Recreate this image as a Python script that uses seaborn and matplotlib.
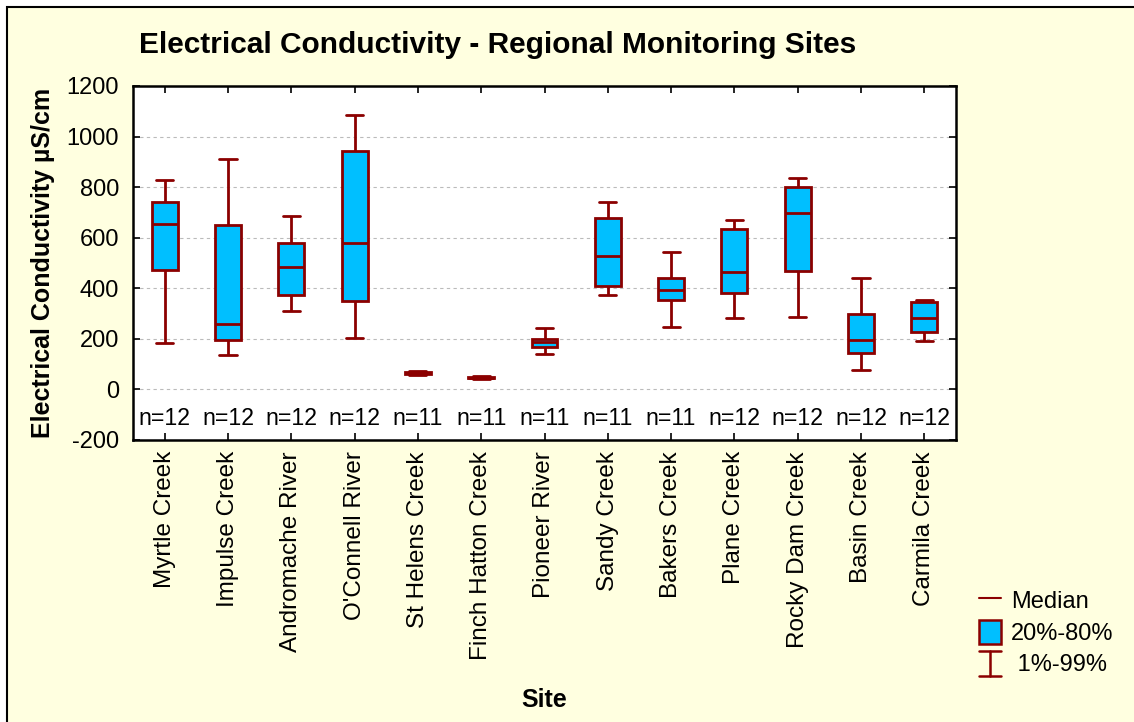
import numpy as np
import pandas as pd
import seaborn as sns
import matplotlib.pyplot as plt
from matplotlib.lines import Line2D
from matplotlib.patches import Patch, Rectangle
from matplotlib.legend_handler import HandlerBase

# ---------------------------------------------------------
# data
# ---------------------------------------------------------
sites = ["Myrtle Creek", "Impulse Creek", "Andromache River", "O'Connell River",
         "St Helens Creek", "Finch Hatton Creek", "Pioneer River", "Sandy Creek",
         "Bakers Creek", "Plane Creek", "Rocky Dam Creek", "Basin Creek", "Carmila Creek"]
n_obs = [12, 12, 12, 12, 11, 11, 11, 11, 11, 12, 12, 12, 12]

p01 = [184, 137, 311, 205, 57, 43, 139, 372, 246, 281, 287, 78, 193]
p20 = [472, 194, 374, 349, 62, 45, 167, 411, 354, 382, 467, 146, 226]
p50 = [655, 257, 484, 580, 66, 47, 187, 528, 392, 465, 698, 197, 282]
p80 = [740, 651, 578, 942, 70, 50, 198, 677, 441, 634, 801, 297, 344]
p99 = [827, 913, 686, 1084, 74, 52, 242, 742, 543, 671, 837, 441, 352]

BLUE = "#00BFFF"
RED = "#8B0000"

# long form: 5 values per site -> quartiles of these 5 = 20%/80%, min/max = 1%/99%
rows = []
for i, s in enumerate(sites):
    for v in (p01[i], p20[i], p50[i], p80[i], p99[i]):
        rows.append({"site": s, "ec": v})
df = pd.DataFrame(rows)

sns.set_theme(style="white")
plt.rcParams["font.family"] = ["Liberation Sans", "DejaVu Sans"]
plt.rcParams["axes.unicode_minus"] = False
for k in ("text.color", "axes.labelcolor", "xtick.color", "ytick.color"):
    plt.rcParams[k] = "black"

fig = plt.figure(figsize=(11.34, 7.22), dpi=100, facecolor="white")
fig.patches.append(Rectangle((7 / 1134, -0.05), 1.1, 1.05 - 7 / 722, transform=fig.transFigure,
                             facecolor="#FFFFE0", edgecolor="black", lw=1.5, zorder=-10))
ax = fig.add_axes([133 / 1134, 1 - 440 / 722, (956 - 133) / 1134, (440 - 86) / 722])
ax.set_facecolor("white")

sns.boxplot(data=df, x="site", y="ec", order=sites, whis=(0, 100), width=0.41,
            color=BLUE, linecolor=RED, linewidth=2.0, saturation=1, showfliers=False,
            capwidths=0.27, ax=ax)

for i, n in enumerate(n_obs):
    ax.text(i, -115, f"n={n}", ha="center", va="center", fontsize=16.7)

ax.set_xlim(-0.5, len(sites) - 0.5)
ax.set_ylim(-200, 1200)
ax.set_yticks(np.arange(-200, 1201, 200))
ax.yaxis.grid(True, ls=(0, (3, 3)), color="#bbbbbb", lw=0.8)
ax.set_axisbelow(True)
ax.tick_params(axis="both", direction="in", length=5, width=1.2, color="black",
               top=True, right=True, bottom=True, left=True)
ax.tick_params(axis="y", labelsize=17, pad=10)
ax.tick_params(axis="x", labelsize=17.5, pad=8, labelrotation=90)
for sp in ax.spines.values():
    sp.set_color("black")
    sp.set_linewidth(1.8)

ax.set_ylabel("Electrical Conductivity µS/cm", fontsize=18, fontweight="bold", labelpad=8)
ax.set_xlabel("Site", fontsize=18, fontweight="bold", labelpad=20)
fig.text(498 / 1134, 1 - 45 / 722, "Electrical Conductivity - Regional Monitoring Sites",
         ha="center", va="center", fontsize=21.5, fontweight="bold")


# legend glyph for the 1%-99% whisker
class WhiskerHandler(HandlerBase):
    def create_artists(self, legend, orig_handle, xdescent, ydescent, width, height, fontsize, trans):
        x0, x1 = -xdescent, width - xdescent
        xm = (x0 + x1) / 2
        y0, y1 = -ydescent, height - ydescent
        kw = dict(color=RED, lw=1.8, transform=trans)
        return [Line2D([xm, xm], [y0, y1], **kw),
                Line2D([x0, x1], [y0, y0], **kw),
                Line2D([x0, x1], [y1, y1], **kw)]


class WhiskerKey:
    pass


handles = [Line2D([], [], color=RED, lw=1.5),
           Patch(facecolor=BLUE, edgecolor=RED, lw=1.8),
           WhiskerKey()]
labels = ["Median", "20%-80%", " 1%-99%"]
fig.legend(handles, labels, loc="upper left", bbox_to_anchor=(979 / 1134, 1 - 588 / 722),
           frameon=False, fontsize=17, handlelength=0.95, handleheight=1.2,
           handletextpad=0.4, labelspacing=0.28, borderpad=0, borderaxespad=0,
           handler_map={WhiskerKey: WhiskerHandler()})

fig.savefig("out.png", dpi=100, facecolor=fig.get_facecolor())
